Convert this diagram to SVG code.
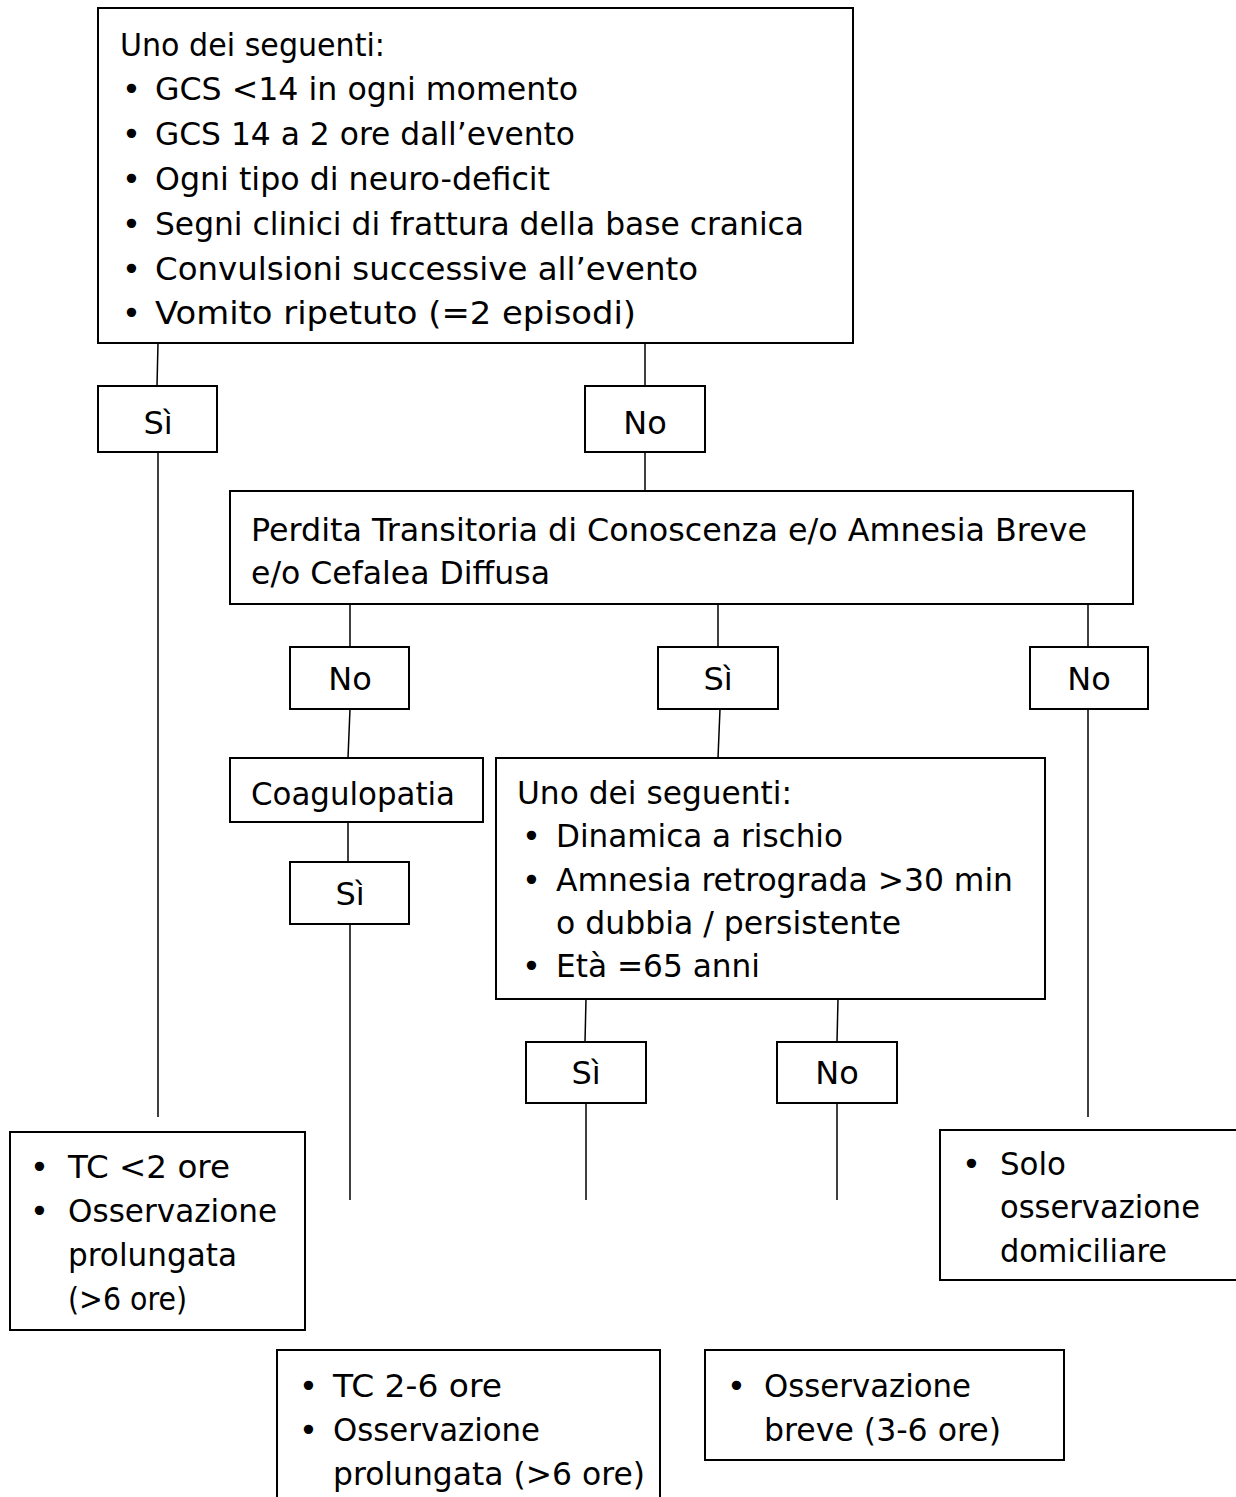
<svg xmlns="http://www.w3.org/2000/svg" width="1236" height="1497" viewBox="0 0 1236 1497">
<style>
.box{fill:#fff;stroke:#000;stroke-width:2}
.ln{stroke:#000;stroke-width:1.5;fill:none}
text{font-family:"DejaVu Sans",Tahoma,Verdana,sans-serif;font-size:32px;fill:#000}
.c{text-anchor:middle}
</style>
<rect width="1236" height="1497" fill="#fff"/>
<g id="connectors">
<line class="ln" x1="158" y1="343" x2="157" y2="386"/>
<line class="ln" x1="645" y1="343" x2="645" y2="386"/>
<line class="ln" x1="645" y1="452" x2="645" y2="491"/>
<line class="ln" x1="158" y1="452" x2="158" y2="1117"/>
<line class="ln" x1="350" y1="604" x2="350" y2="647"/>
<line class="ln" x1="718" y1="604" x2="718" y2="647"/>
<line class="ln" x1="1088" y1="604" x2="1088" y2="647"/>
<line class="ln" x1="350" y1="709" x2="348" y2="758"/>
<line class="ln" x1="720" y1="709" x2="718" y2="758"/>
<line class="ln" x1="1088" y1="709" x2="1088" y2="1117"/>
<line class="ln" x1="348" y1="822" x2="348" y2="862"/>
<line class="ln" x1="350" y1="924" x2="350" y2="1200"/>
<line class="ln" x1="586" y1="999" x2="585" y2="1042"/>
<line class="ln" x1="838" y1="999" x2="837" y2="1042"/>
<line class="ln" x1="586" y1="1103" x2="586" y2="1200"/>
<line class="ln" x1="837" y1="1103" x2="837" y2="1200"/>
</g>
<g id="n-top">
<rect class="box" x="98" y="8" width="755" height="335"/>
<text x="120" y="56" textLength="265" lengthAdjust="spacingAndGlyphs">Uno dei seguenti:</text>
<text x="122" y="100">•</text><text x="155" y="100" textLength="423" lengthAdjust="spacingAndGlyphs">GCS &lt;14 in ogni momento</text>
<text x="122" y="145">•</text><text x="155" y="145" textLength="420" lengthAdjust="spacingAndGlyphs">GCS 14 a 2 ore dall’evento</text>
<text x="122" y="190">•</text><text x="155" y="190" textLength="395" lengthAdjust="spacingAndGlyphs">Ogni tipo di neuro-deficit</text>
<text x="122" y="235">•</text><text x="155" y="235" textLength="649" lengthAdjust="spacingAndGlyphs">Segni clinici di frattura della base cranica</text>
<text x="122" y="280">•</text><text x="155" y="280" textLength="543" lengthAdjust="spacingAndGlyphs">Convulsioni successive all’evento</text>
<text x="122" y="324">•</text><text x="155" y="324" textLength="481" lengthAdjust="spacingAndGlyphs">Vomito ripetuto (=2 episodi)</text>
</g>
<g id="n-si1">
<rect class="box" x="98" y="386" width="119" height="66"/>
<text class="c" x="158" y="434">Sì</text>
</g>
<g id="n-no1">
<rect class="box" x="585" y="386" width="120" height="66"/>
<text class="c" x="645" y="434">No</text>
</g>
<g id="n-perdita">
<rect class="box" x="230" y="491" width="903" height="113"/>
<text x="251" y="541" textLength="836" lengthAdjust="spacingAndGlyphs">Perdita Transitoria di Conoscenza e/o Amnesia Breve</text>
<text x="251" y="584" textLength="299" lengthAdjust="spacingAndGlyphs">e/o Cefalea Diffusa</text>
</g>
<g id="n-no2">
<rect class="box" x="290" y="647" width="119" height="62"/>
<text class="c" x="350" y="690">No</text>
</g>
<g id="n-si2">
<rect class="box" x="658" y="647" width="120" height="62"/>
<text class="c" x="718" y="690">Sì</text>
</g>
<g id="n-no3">
<rect class="box" x="1030" y="647" width="118" height="62"/>
<text class="c" x="1089" y="690">No</text>
</g>
<g id="n-coag">
<rect class="box" x="230" y="758" width="253" height="64"/>
<text x="251" y="805" textLength="204" lengthAdjust="spacingAndGlyphs">Coagulopatia</text>
</g>
<g id="n-si3">
<rect class="box" x="290" y="862" width="119" height="62"/>
<text class="c" x="350" y="905">Sì</text>
</g>
<g id="n-uno2">
<rect class="box" x="496" y="758" width="549" height="241"/>
<text x="517" y="804" textLength="275" lengthAdjust="spacingAndGlyphs">Uno dei seguenti:</text>
<text x="522" y="847">•</text><text x="556" y="847" textLength="287" lengthAdjust="spacingAndGlyphs">Dinamica a rischio</text>
<text x="522" y="891">•</text><text x="556" y="891" textLength="457" lengthAdjust="spacingAndGlyphs">Amnesia retrograda &gt;30 min</text>
<text x="556" y="934" textLength="345" lengthAdjust="spacingAndGlyphs">o dubbia / persistente</text>
<text x="522" y="977">•</text><text x="556" y="977" textLength="204" lengthAdjust="spacingAndGlyphs">Età =65 anni</text>
</g>
<g id="n-si4">
<rect class="box" x="526" y="1042" width="120" height="61"/>
<text class="c" x="586" y="1084">Sì</text>
</g>
<g id="n-no4">
<rect class="box" x="777" y="1042" width="120" height="61"/>
<text class="c" x="837" y="1084">No</text>
</g>
<g id="n-tc2">
<rect class="box" x="10" y="1132" width="295" height="198"/>
<text x="30" y="1178">•</text><text x="68" y="1178" textLength="162" lengthAdjust="spacingAndGlyphs">TC &lt;2 ore</text>
<text x="30" y="1222">•</text><text x="68" y="1222" textLength="209" lengthAdjust="spacingAndGlyphs">Osservazione</text>
<text x="68" y="1266" textLength="169" lengthAdjust="spacingAndGlyphs">prolungata</text>
<text x="68" y="1310" textLength="119" lengthAdjust="spacingAndGlyphs">(&gt;6 ore)</text>
</g>
<g id="n-solo">
<rect class="box" x="940" y="1130" width="300" height="150"/>
<text x="962" y="1175">•</text><text x="1000" y="1175" textLength="66" lengthAdjust="spacingAndGlyphs">Solo</text>
<text x="1000" y="1218" textLength="200" lengthAdjust="spacingAndGlyphs">osservazione</text>
<text x="1000" y="1262" textLength="167" lengthAdjust="spacingAndGlyphs">domiciliare</text>
</g>
<g id="n-tc26">
<rect class="box" x="277" y="1350" width="383" height="160"/>
<text x="299" y="1397">•</text><text x="333" y="1397" textLength="169" lengthAdjust="spacingAndGlyphs">TC 2-6 ore</text>
<text x="299" y="1441">•</text><text x="333" y="1441" textLength="207" lengthAdjust="spacingAndGlyphs">Osservazione</text>
<text x="333" y="1485" textLength="312" lengthAdjust="spacingAndGlyphs">prolungata (&gt;6 ore)</text>
</g>
<g id="n-breve">
<rect class="box" x="705" y="1350" width="359" height="110"/>
<text x="727" y="1397">•</text><text x="764" y="1397" textLength="207" lengthAdjust="spacingAndGlyphs">Osservazione</text>
<text x="764" y="1441" textLength="237" lengthAdjust="spacingAndGlyphs">breve (3-6 ore)</text>
</g>
</svg>
